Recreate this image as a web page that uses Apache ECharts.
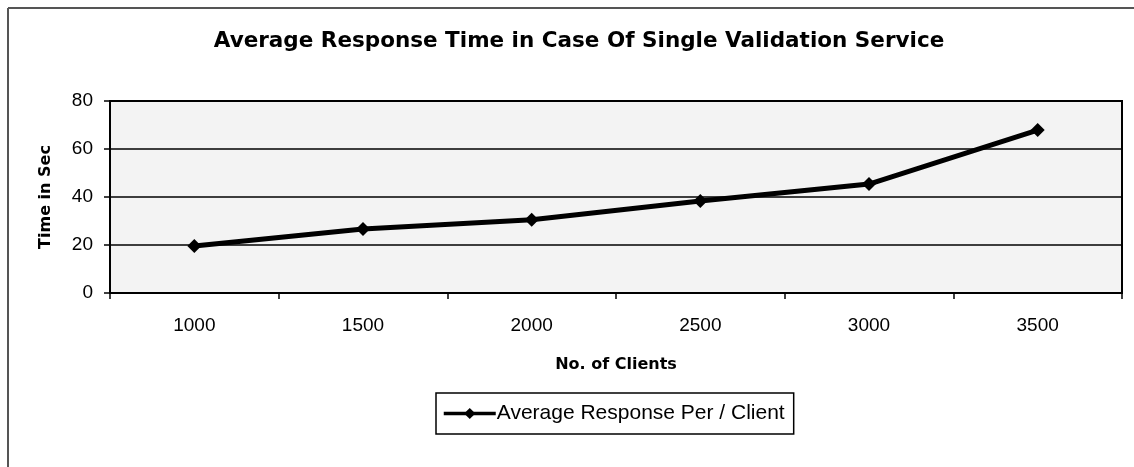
<!DOCTYPE html>
<html>
<head>
<meta charset="utf-8">
<script src="https://cdn.jsdelivr.net/npm/echarts@6/dist/echarts.min.js"></script>
<style>html,body{margin:0;padding:0;background:#fff}#c{width:1134px;height:467px}</style>
</head>
<body>
<div id="c"></div>
<script>
var categories = ['1000', '1500', '2000', '2500', '3000', '3500'];
var responseTimes = [19.6, 26.7, 30.5, 38.3, 45.4, 67.9];
var yTicks = [0, 20, 40, 60, 80];
var seriesName = 'Average Response Per / Client';

var chart = echarts.init(document.getElementById('c'), null, {renderer: 'canvas'});
var font = 'Arial, "Liberation Sans", Helvetica, sans-serif';
var wide = '"DejaVu Sans", Verdana, sans-serif';
chart.setOption({
  backgroundColor: '#ffffff',
  animation: false,
  title: {
    text: 'Average Response Time in Case Of Single Validation Service',
    left: 574, top: 25, textAlign: 'center',
    textStyle: {fontFamily: wide, fontSize: 21.5, fontWeight: 'bold', color: '#000'}
  },
  graphic: [
    {type: 'line', shape: {x1: 8, y1: 8, x2: 1134, y2: 8}, style: {stroke: '#555', lineWidth: 2}},
    {type: 'line', shape: {x1: 8, y1: 8, x2: 8, y2: 467}, style: {stroke: '#555', lineWidth: 2}}
  ],
  legend: {
    data: [seriesName],
    left: 436, top: 393,
    padding: [10, 9, 10, 6],
    borderColor: '#000', borderWidth: 1.5,
    itemWidth: 52, itemHeight: 14,
    lineStyle: {width: 3.5, color: '#000'},
    textStyle: {fontFamily: font, fontSize: 21, color: '#000', padding: [0, 0, 0, -4]}
  },
  grid: {left: 110, right: 12, top: 101, bottom: 174, containLabel: false,
         show: true, backgroundColor: '#f3f3f3', borderColor: '#000', borderWidth: 2},
  xAxis: {
    type: 'category', data: categories, boundaryGap: true,
    name: 'No. of Clients', nameLocation: 'middle', nameGap: 64,
    nameTextStyle: {fontFamily: wide, fontSize: 16, fontWeight: 'bold', color: '#000'},
    axisLine: {lineStyle: {color: '#000', width: 2}},
    axisTick: {show: true, length: 6, lineStyle: {color: '#000', width: 1.5}},
    axisLabel: {fontFamily: font, fontSize: 19, color: '#000', margin: 23},
    splitLine: {show: false}
  },
  yAxis: {
    type: 'value', min: yTicks[0], max: yTicks[yTicks.length - 1], interval: 20,
    name: 'Time in Sec', nameLocation: 'middle', nameGap: 56, nameRotate: 90,
    nameTextStyle: {fontFamily: wide, fontSize: 16, fontWeight: 'bold', color: '#000'},
    axisLine: {show: true, lineStyle: {color: '#000', width: 2}},
    axisTick: {show: true, length: 6, lineStyle: {color: '#000', width: 1.5}},
    axisLabel: {fontFamily: font, fontSize: 19, color: '#000', margin: 17},
    splitLine: {show: true, lineStyle: {color: '#000', width: 1.5}}
  },
  series: [{
    name: seriesName, type: 'line', data: responseTimes,
    symbol: 'diamond', symbolSize: 14,
    lineStyle: {color: '#000', width: 5},
    itemStyle: {color: '#000'}
  }]
});
</script>
</body>
</html>
